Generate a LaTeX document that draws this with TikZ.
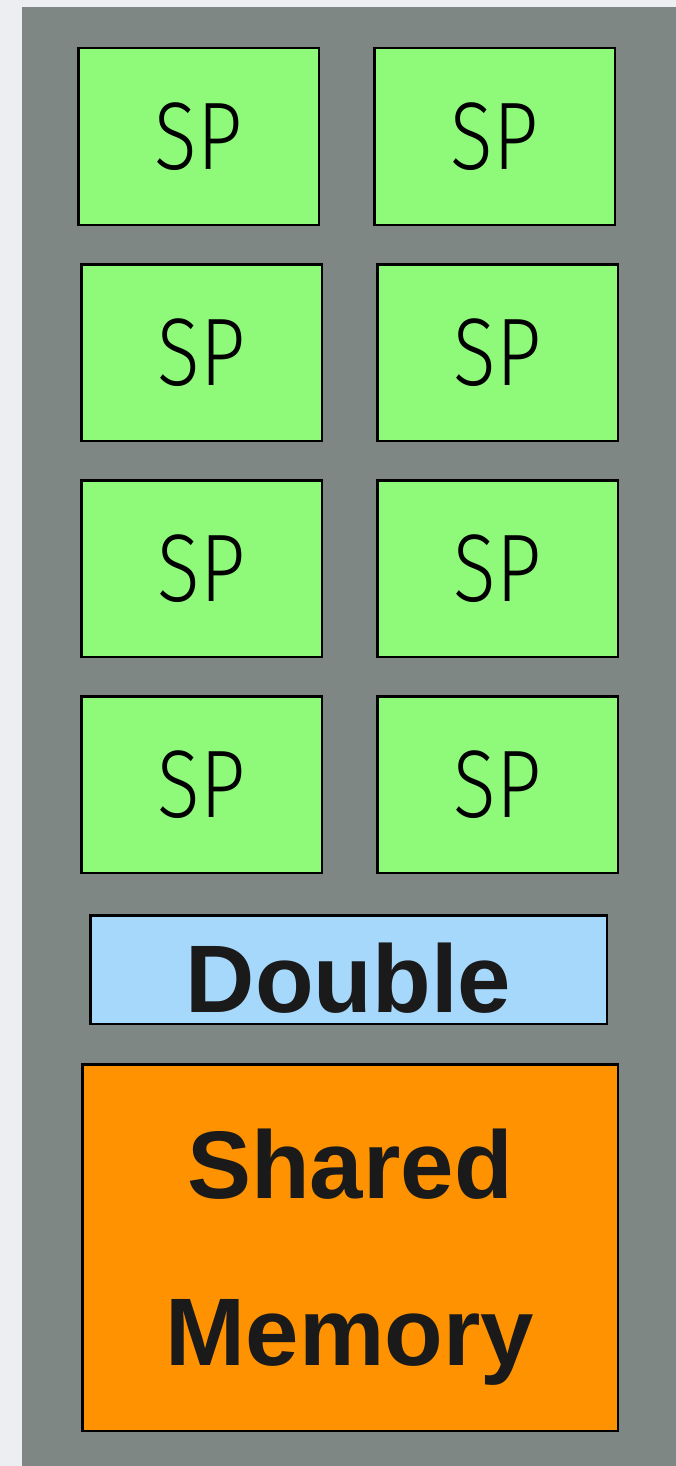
\documentclass[tikz,border=0pt]{standalone}
\usepackage{fontspec}
\setmainfont{Liberation Sans}
\newfontfamily\spfont{Fira Sans Light}[FakeStretch=0.82]
\definecolor{pagebg}{HTML}{ECEEF1}
\definecolor{panelgray}{HTML}{7F8784}
\definecolor{spgreen}{HTML}{8FFA7A}
\definecolor{dblue}{HTML}{A6D8FC}
\definecolor{smorange}{HTML}{FF9200}
\definecolor{txt}{HTML}{1A1A1A}
\tikzset{
  box/.style={draw=black, line width=2.5pt, inner sep=0pt},
  spbox/.style={box, fill=spgreen, minimum width=240.5pt, minimum height=176.5pt,
    font=\spfont\fontsize{96}{100}\selectfont, text=black},
  boldtxt/.style={font=\bfseries\fontsize{96}{167}\selectfont, text=txt}
}
\begin{document}
\begin{tikzpicture}[x=1pt,y=-1pt]
\useasboundingbox (0,0) rectangle (676,1466);
\fill[pagebg] (0,0) rectangle (676,1466);
\fill[panelgray] (22,7) rectangle (676,1466);
% SP grid
\node[spbox] (sp11) at (198.5,136.5) {SP};
\node[spbox] (sp12) at (494.5,136.5) {SP};
\node[spbox] (sp21) at (201.5,352.5) {SP};
\node[spbox] (sp22) at (497.5,352.5) {SP};
\node[spbox] (sp31) at (201.5,568.5) {SP};
\node[spbox] (sp32) at (497.5,568.5) {SP};
\node[spbox] (sp41) at (201.5,784.5) {SP};
\node[spbox] (sp42) at (497.5,784.5) {SP};
% Double
\node[box, boldtxt, fill=dblue, minimum width=516.5pt, minimum height=108.5pt,
      text height=85pt, text depth=0pt] (dbl) at (348.5,969.5) {Double};
% Shared Memory
\node[box, boldtxt, fill=smorange, minimum width=535.5pt, minimum height=366.5pt,
      align=center, text depth=0pt] (smem) at (350,1247.5) {Shared\\Memory};
\end{tikzpicture}
\end{document}
